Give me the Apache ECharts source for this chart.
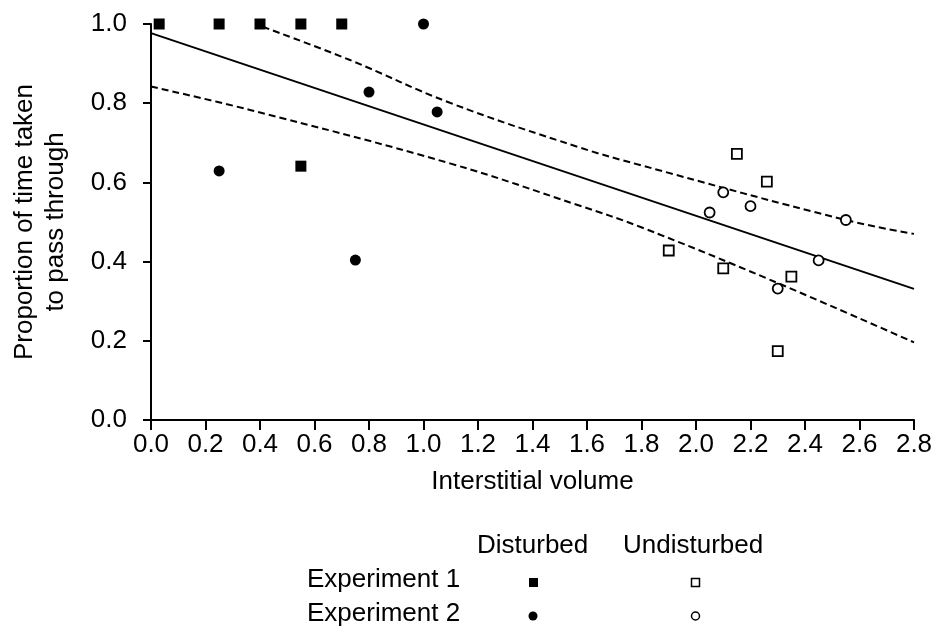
<!DOCTYPE html>
<html>
<head>
<meta charset="utf-8">
<script src="https://cdn.jsdelivr.net/npm/echarts@6/dist/echarts.min.js"></script>
<style>
html,body{margin:0;padding:0;background:#fff;}
#chart{width:944px;height:635px;}
</style>
</head>
<body>
<div id="chart"></div>
<script>
// ---- data ----
const xTickValues = [0.0,0.2,0.4,0.6,0.8,1.0,1.2,1.4,1.6,1.8,2.0,2.2,2.4,2.6,2.8];
const yTickValues = [0.0,0.2,0.4,0.6,0.8,1.0];

const disturbedExp1 = [[0.03,1.0],[0.25,1.0],[0.40,1.0],[0.55,1.0],[0.70,1.0],[0.55,0.641]];
const disturbedExp2 = [[0.25,0.629],[0.75,0.404],[0.80,0.828],[1.00,1.0],[1.05,0.778]];
const undisturbedExp1 = [[2.15,0.672],[2.26,0.602],[1.90,0.428],[2.10,0.383],[2.35,0.362],[2.30,0.174]];
const undisturbedExp2 = [[2.10,0.575],[2.05,0.524],[2.20,0.540],[2.55,0.505],[2.45,0.403],[2.30,0.332]];

const fitLine = [[0.0,0.977],[2.8,0.331]];
const lowerBand = [[0.0,0.842],[0.363,0.783],[1.097,0.648],[1.574,0.541],[1.794,0.488],[2.272,0.354],[2.8,0.196]];
const upperBand = [[0.41,0.993],[0.73,0.909],[1.097,0.801],[1.574,0.688],[1.794,0.644],[2.55,0.505],[2.8,0.470]];

const xAxisTitle = 'Interstitial volume';
const yAxisTitle = 'Proportion of time taken\nto pass through';
const colHeaders = ['Disturbed','Undisturbed'];
const rowHeaders = ['Experiment 1','Experiment 2'];

// ---- chart ----
const FONT = 'Liberation Sans, Arial, sans-serif';
const FS = 26;
const chart = echarts.init(document.getElementById('chart'), null, {renderer:'canvas'});

const option = {
  backgroundColor:'#fff',
  animation:false,
  grid:{left:151, right:30, top:24, bottom:215, containLabel:false},
  xAxis:{
    type:'value', min:0, max:2.8, interval:0.2,
    axisLine:{lineStyle:{color:'#000', width:2}},
    axisTick:{show:true, length:10, lineStyle:{color:'#000', width:2}},
    splitLine:{show:false},
    axisLabel:{color:'#000', fontSize:FS, fontFamily:FONT, margin:12,
      formatter:v=>v.toFixed(1)},
    name:xAxisTitle, nameLocation:'middle', nameGap:49,
    nameTextStyle:{color:'#000', fontSize:FS, fontFamily:FONT}
  },
  yAxis:{
    type:'value', min:0, max:1, interval:0.2,
    axisLine:{lineStyle:{color:'#000', width:2}},
    axisTick:{show:true, length:8, lineStyle:{color:'#000', width:2}},
    splitLine:{show:false},
    axisLabel:{color:'#000', fontSize:FS, fontFamily:FONT, margin:24,
      formatter:v=>v.toFixed(1)},
    name:yAxisTitle, nameLocation:'middle', nameGap:80, nameRotate:90,
    nameTextStyle:{color:'#000', fontSize:FS, fontFamily:FONT, lineHeight:31}
  },
  series:[
    {type:'line', data:fitLine, symbol:'none', lineStyle:{color:'#000', width:2}, z:2},
    {type:'line', data:lowerBand, symbol:'none', smooth:0.4, lineStyle:{color:'#000', width:2, type:[7,4]}, z:2},
    {type:'line', data:upperBand, symbol:'none', smooth:0.4, lineStyle:{color:'#000', width:2, type:[7,4]}, z:2},
    {type:'scatter', name:'Disturbed, Experiment 1', data:disturbedExp1, symbol:'rect', symbolSize:11,
      itemStyle:{color:'#000', opacity:1}, z:5},
    {type:'scatter', name:'Disturbed, Experiment 2', data:disturbedExp2, symbol:'circle', symbolSize:11,
      itemStyle:{color:'#000', opacity:1}, z:5},
    {type:'scatter', name:'Undisturbed, Experiment 1', data:undisturbedExp1, symbol:'rect', symbolSize:10,
      itemStyle:{color:'#fff', borderColor:'#000', borderWidth:1.8, opacity:1}, z:5},
    {type:'scatter', name:'Undisturbed, Experiment 2', data:undisturbedExp2, symbol:'circle', symbolSize:10,
      itemStyle:{color:'#fff', borderColor:'#000', borderWidth:1.8, opacity:1}, z:5}
  ],
  graphic:[
    {type:'text', left:477, top:533, style:{text:colHeaders[0], fill:'#000', font:FS+'px '+FONT}},
    {type:'text', left:623, top:533, style:{text:colHeaders[1], fill:'#000', font:FS+'px '+FONT}},
    {type:'text', left:307, top:567, style:{text:rowHeaders[0], fill:'#000', font:FS+'px '+FONT}},
    {type:'text', left:307, top:601, style:{text:rowHeaders[1], fill:'#000', font:FS+'px '+FONT}},
    {type:'rect', shape:{x:529, y:578, width:9, height:9}, style:{fill:'#000'}},
    {type:'rect', shape:{x:691.5, y:578.5, width:8, height:8}, style:{fill:'#fff', stroke:'#000', lineWidth:1.5}},
    {type:'circle', shape:{cx:533, cy:616, r:4.5}, style:{fill:'#000'}},
    {type:'circle', shape:{cx:695.5, cy:616, r:4}, style:{fill:'#fff', stroke:'#000', lineWidth:1.5}}
  ]
};
chart.setOption(option);
</script>
</body>
</html>
